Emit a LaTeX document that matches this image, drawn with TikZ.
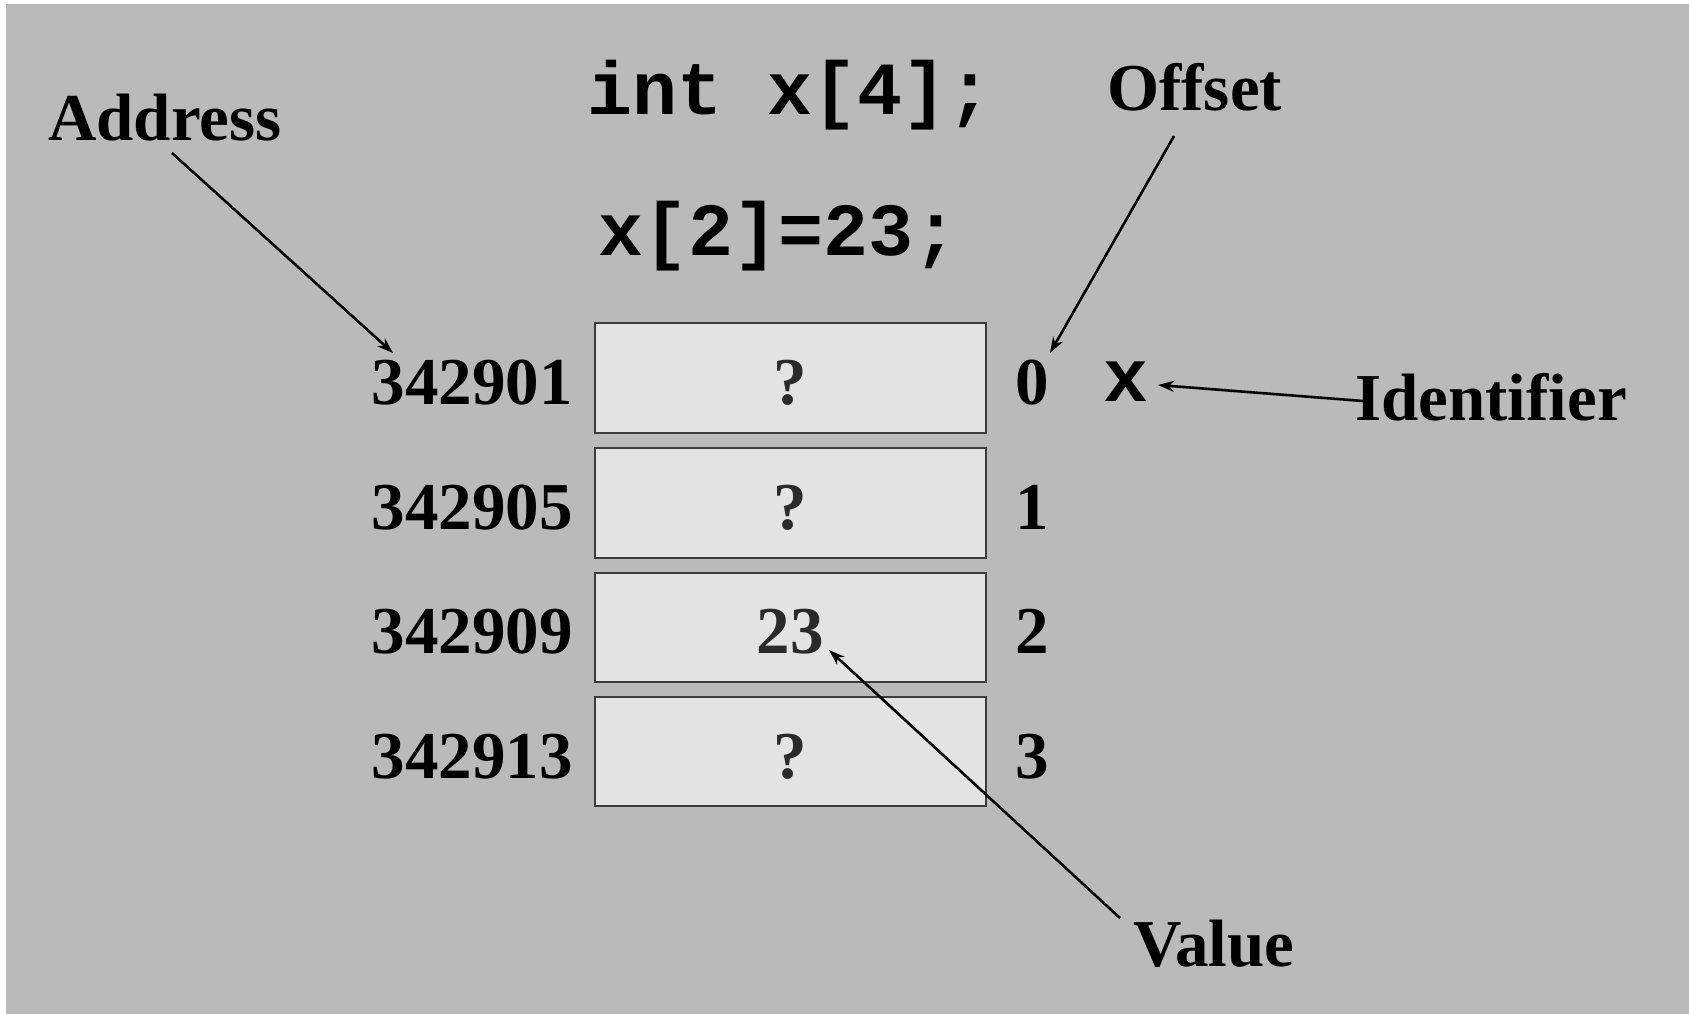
\documentclass[tikz,border=0pt]{standalone}
\usepackage{fontspec}
\setmainfont{Liberation Serif}
\setmonofont{Liberation Mono}
\usetikzlibrary{arrows.meta}
\definecolor{bg}{HTML}{BABABA}
\definecolor{cell}{HTML}{E3E3E3}
\definecolor{cellline}{HTML}{3C3C3C}
\definecolor{valtxt}{HTML}{2A2A2A}
\tikzset{
  lbl/.style={inner sep=0pt, font=\fontsize{67}{70}\selectfont\bfseries},
  code/.style={inner sep=0pt, font=\fontsize{75}{78}\selectfont\ttfamily\bfseries},
  cellbox/.style={draw=cellline, fill=cell, line width=2pt},
  celltxt/.style={inner sep=0pt, text=valtxt, font=\fontsize{67}{70}\selectfont\bfseries},
  ptr/.style={line width=2.6pt, -{Stealth[length=16pt,width=11pt]}}
}
\begin{document}
\begin{tikzpicture}[x=1pt,y=-1pt]
\useasboundingbox (0,0) rectangle (1689,1014);
\fill[white] (0,0) rectangle (1689,1014);
\fill[bg] (6,4) rectangle (1689,1014);

% code lines
\node[code, anchor=base west] (decl) at (587,115) {int x[4];};
\node[code, anchor=base west] (assign) at (598,255) {x[2]=23;};

% labels
\node[lbl, anchor=base west] (address) at (48,140) {Address};
\node[lbl, anchor=base west] (offset) at (1107,111) {Offset};
\node[lbl, anchor=base west] (identifier) at (1355,420) {Identifier};
\node[lbl, anchor=base west] (value) at (1133,966) {Value};

% cells
\draw[cellbox] (595,323) rectangle (986,433);
\draw[cellbox] (595,448) rectangle (986,558);
\draw[cellbox] (595,573) rectangle (986,682);
\draw[cellbox] (595,697) rectangle (986,806);

\node[celltxt, anchor=base] (v0) at (790,404) {?};
\node[celltxt, anchor=base] (v1) at (790,529) {?};
\node[celltxt, anchor=base] (v2) at (790,653) {23};
\node[celltxt, anchor=base] (v3) at (790,778) {?};

% addresses
\node[lbl, anchor=base east] (a0) at (573,404) {342901};
\node[lbl, anchor=base east] (a1) at (573,529) {342905};
\node[lbl, anchor=base east] (a2) at (573,653) {342909};
\node[lbl, anchor=base east] (a3) at (573,778) {342913};

% offsets
\node[lbl, anchor=base] (o0) at (1032,404) {0};
\node[lbl, anchor=base] (o1) at (1032,529) {1};
\node[lbl, anchor=base] (o2) at (1032,653) {2};
\node[lbl, anchor=base] (o3) at (1032,778) {3};

% identifier x
\node[code, anchor=base] (xid) at (1126,401) {x};

% arrow end points
\coordinate (addrS) at (172,153);
\coordinate (addrE) at (393,353);
\coordinate (offS) at (1174,136);
\coordinate (offE) at (1050,353);
\coordinate (idS) at (1363,401);
\coordinate (idE) at (1158,385);
\coordinate (valS) at (1120,918);
\coordinate (valE) at (829,650);

\draw[ptr] (addrS) -- (addrE);
\draw[ptr] (offS) -- (offE);
\draw[ptr] (idS) -- (idE);
\draw[ptr] (valS) -- (valE);
\end{tikzpicture}
\end{document}
